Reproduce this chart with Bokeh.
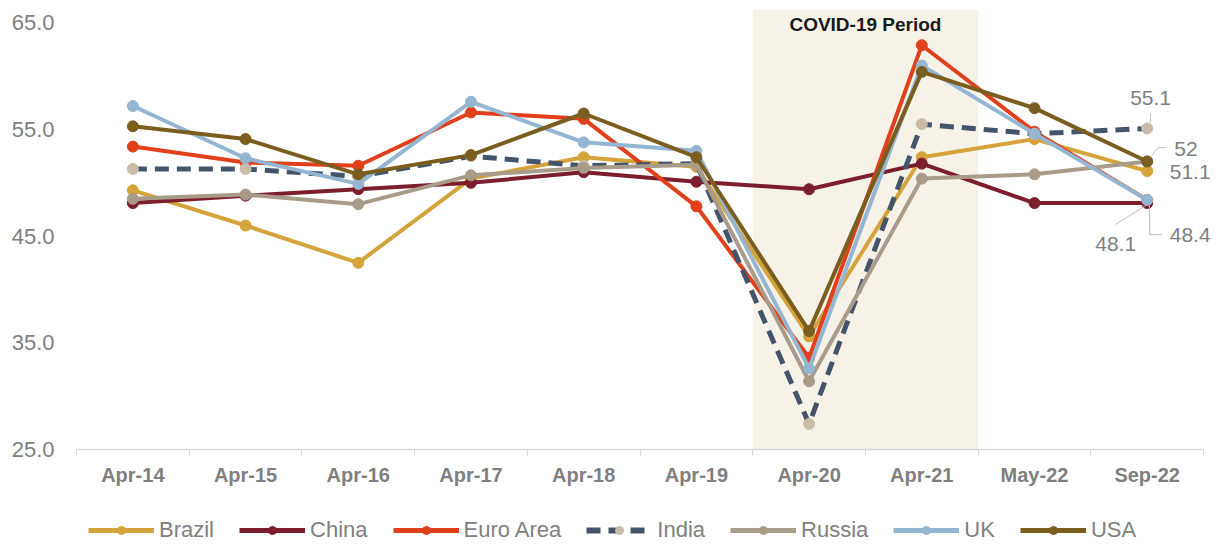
from bokeh.plotting import figure
from bokeh.layouts import column
from bokeh.models import (FixedTicker, Legend, LegendItem, Range1d, BoxAnnotation)
from bokeh.core.properties import value
from bokeh.embed import file_html
from bokeh.resources import INLINE

categories = ["Apr-14", "Apr-15", "Apr-16", "Apr-17", "Apr-18", "Apr-19", "Apr-20", "Apr-21", "May-22", "Sep-22"]
brazil = [49.3, 46.0, 42.5, 50.4, 52.4, 51.5, 35.6, 52.4, 54.1, 51.1]
china = [48.1, 48.8, 49.4, 50.0, 51.0, 50.1, 49.4, 51.8, 48.1, 48.1]
euro = [53.4, 51.9, 51.6, 56.6, 56.0, 47.8, 33.6, 62.9, 54.8, 48.4]
india = [51.3, 51.3, 50.6, 52.5, 51.6, 51.8, 27.4, 55.5, 54.6, 55.1]
russia = [48.5, 48.9, 48.0, 50.7, 51.4, 51.7, 31.4, 50.4, 50.8, 52.0]
uk = [57.2, 52.3, 49.9, 57.6, 53.8, 53.0, 32.6, 61.0, 54.6, 48.4]
usa = [55.3, 54.1, 50.8, 52.6, 56.5, 52.4, 36.1, 60.4, 57.0, 52.0]
y_ticks = [25, 35, 45, 55, 65]

xs = list(range(len(categories)))
n = len(categories)
FONT = "Liberation Sans"

p = figure(width=1215, height=495, output_backend="svg", toolbar_location=None,
           x_range=Range1d(-0.5, n - 0.5 + 0.106), y_range=Range1d(25, 66.25),
           min_border_left=76, min_border_right=0, min_border_top=9, min_border_bottom=46)
p.outline_line_color = None
p.grid.grid_line_color = None
p.background_fill_color = "white"

# COVID shading
p.add_layout(BoxAnnotation(left=5.5, right=7.5, fill_color="#F6F2E8", fill_alpha=1.0, line_color=None, level="underlay"))
p.text(x=[6.5], y=[64.8], text=["COVID-19 Period"], text_font=value(FONT),
       text_font_style="bold", text_font_size="19px", text_color="#1a1a1a",
       text_align="center", text_baseline="middle")

series = [
    ("Brazil", brazil, "#D4A33A", "#D4A33A", "solid", 4),
    ("China", china, "#7C1E2E", "#7C1E2E", "solid", 4),
    ("Euro Area", euro, "#E0401B", "#E0401B", "solid", 4),
    ("India", india, "#44546A", "#C9BCA8", "14 8", 5),
    ("Russia", russia, "#A99B89", "#A99B89", "solid", 4),
    ("UK", uk, "#94B6D2", "#94B6D2", "solid", 4),
    ("USA", usa, "#7A5E1F", "#7A5E1F", "solid", 4),
]

# legend-only figure
lf = figure(width=1215, height=49, output_backend="svg", toolbar_location=None,
            x_range=Range1d(0, 1), y_range=Range1d(0, 1),
            x_axis_location=None, y_axis_location=None,
            min_border_left=0, min_border_right=0, min_border_top=0, min_border_bottom=0)
lf.grid.visible = False
lf.outline_line_color = None

items = []
for name, vals, lc, mc, dash, lw in series:
    p.line(xs, vals, line_color=lc, line_width=lw, line_dash=dash, line_join="round")
    p.scatter(xs, vals, size=11, fill_color=mc, line_color=mc)
    r1 = lf.line([5, 6], [5, 6], line_color=lc, line_width=lw + 1, line_dash=dash)
    r2 = lf.scatter([5], [5], size=13, fill_color=mc, line_color=mc)
    items.append(LegendItem(label=name, renderers=[r1, r2]))

# data labels at the last point
lab_col = "#7F7F7F"
def lbl(x, y, t, align="left"):
    p.text(x=[x], y=[y], text=[t], text_font=value(FONT), text_font_size="21px",
           text_color=lab_col, text_align=align, text_baseline="middle")

def fmt(v):
    return "%d" % v if v == int(v) else "%.1f" % v

lc_ = "#BFBFBF"
lbl(9.03, 57.95, fmt(india[-1]), "center")
p.line([9.03, 9.03], [56.5, 55.65], line_color=lc_, line_width=1)
lbl(9.24, 53.2, fmt(usa[-1]))
p.line([9.03, 9.10, 9.17], [52.4, 53.3, 53.3], line_color=lc_, line_width=1)
lbl(9.20, 51.0, fmt(brazil[-1]))
lbl(8.72, 44.3, fmt(china[-1]), "center")
p.line([8.985, 8.72], [47.86, 46.1], line_color=lc_, line_width=1)
lbl(9.20, 45.14, fmt(uk[-1]))
p.line([9.02, 9.02, 9.13], [47.9, 45.14, 45.14], line_color=lc_, line_width=1)

# axes
p.xaxis.ticker = FixedTicker(ticks=xs, minor_ticks=[i - 0.5 for i in range(n + 1)])
p.xaxis.bounds = (-0.5, n - 0.5)
p.xaxis.major_label_overrides = {i: c for i, c in enumerate(categories)}
p.xaxis.major_tick_line_color = None
p.xaxis.minor_tick_line_color = "#D9D9D9"
p.xaxis.minor_tick_out = 6
p.xaxis.minor_tick_in = 0
p.xaxis.axis_line_color = "#D9D9D9"
p.xaxis.axis_line_width = 1.5
p.xaxis.major_label_text_font = FONT
p.xaxis.major_label_text_font_style = "bold"
p.xaxis.major_label_text_font_size = "20px"
p.xaxis.major_label_text_color = "#7F7F7F"
p.xaxis.major_label_standoff = 8

p.yaxis.ticker = FixedTicker(ticks=y_ticks)
p.yaxis.major_label_overrides = {t: "%.1f" % t for t in y_ticks}
p.yaxis.axis_line_color = None
p.yaxis.major_tick_line_color = None
p.yaxis.minor_tick_line_color = None
p.yaxis.major_label_text_font = FONT
p.yaxis.major_label_text_font_size = "22px"
p.yaxis.major_label_text_color = "#808080"
p.yaxis.major_label_standoff = 16

legend = Legend(items=items, orientation="horizontal", location=(12, 1),
                label_text_font=FONT, label_text_font_size="22px",
                label_text_color="#7F7F7F", glyph_width=66, glyph_height=20,
                label_standoff=5, spacing=25, padding=0, margin=0,
                border_line_color=None, background_fill_alpha=0)
lf.add_layout(legend, "center")

layout = column(p, lf, spacing=0)
open("out.html", "w").write(file_html(layout, INLINE))
